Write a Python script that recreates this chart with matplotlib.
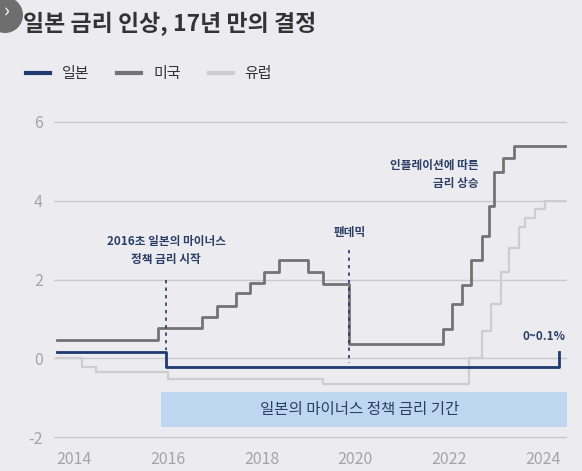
import matplotlib
matplotlib.use("Agg")
import matplotlib.pyplot as plt
from matplotlib.lines import Line2D
from matplotlib.patches import Circle, Rectangle
from matplotlib.transforms import IdentityTransform

plt.rcParams['font.family'] = ['Noto Sans CJK KR', 'DejaVu Sans']

# values (step series, steps-post)
japan_x = [2013.63, 2015.96, 2024.35]
japan_y = [0.15, -0.21, 0.17]

us_x = [2013.63, 2015.80, 2016.74, 2017.06, 2017.45, 2017.75, 2018.06, 2018.37,
        2018.98, 2019.30, 2019.86, 2021.87, 2022.07, 2022.28, 2022.46, 2022.69,
        2022.85, 2022.96, 2023.15, 2023.39, 2024.47]
us_y = [0.46, 0.76, 1.04, 1.33, 1.67, 1.90, 2.18, 2.49,
        2.18, 1.89, 0.37, 0.74, 1.37, 1.87, 2.50, 3.10,
        3.87, 4.72, 5.09, 5.39, 5.39]

eu_x = [2013.63, 2014.18, 2014.48, 2016.00, 2019.30, 2022.42, 2022.71, 2022.89,
        2023.10, 2023.28, 2023.49, 2023.62, 2023.83, 2024.04, 2024.47]
eu_y = [0.0, -0.21, -0.36, -0.53, -0.65, 0.0, 0.69, 1.39,
        2.20, 2.79, 3.33, 3.57, 3.80, 3.99, 3.99]

years = [2014, 2016, 2018, 2020, 2022, 2024]
y_ticks = [-2, 0, 2, 4, 6]
names = ['일본', '미국', '유럽']

bg = '#ececf0'
navy = '#1f3a6e'
us_col = '#737373'
eu_col = '#cdcdd0'
ann_col = '#2b3f66'

fig = plt.figure(figsize=(5.82, 4.71), dpi=100, facecolor=bg)
ax = fig.add_axes([54 / 582, 26 / 471, 513 / 582, 342.8 / 471])
ax.set_facecolor(bg)
ax.set_xlim(2013.574, 2024.512)
ax.set_ylim(-2.2, 6.5)

for s in ax.spines.values():
    s.set_visible(False)
ax.set_yticks(y_ticks)
ax.set_yticklabels([str(v) for v in y_ticks])
ax.set_xticks(years)
ax.set_xticklabels([str(v) for v in years])
ax.tick_params(axis='both', length=0, labelsize=11.5, labelcolor='#a3a3aa')
ax.tick_params(axis='y', pad=8)
ax.tick_params(axis='x', pad=4)
ax.grid(axis='y', color='#c9c9ce', lw=1)
ax.set_axisbelow(True)

# band for the negative rate period
ax.add_patch(Rectangle((2015.85, -1.74), 2024.51 - 2015.85, 0.89,
                       facecolor='#bed6f0', edgecolor='none', zorder=1))
ax.text(2020.08, -1.29, '일본의 마이너스 정책 금리 기간', ha='center', va='center',
        fontsize=11.2, color=ann_col, zorder=2)

ax.plot(eu_x, eu_y, drawstyle='steps-post', color=eu_col, lw=1.6, zorder=3)
ax.plot(us_x, us_y, drawstyle='steps-post', color=us_col, lw=2, zorder=4)
ax.plot(japan_x, japan_y, drawstyle='steps-post', color=navy, lw=2, zorder=5)

# dotted markers
ax.plot([2015.96, 2015.96], [1.99, 0.2], color=navy, lw=1.2, ls=(0, (2, 2.5)), zorder=6)
ax.plot([2019.86, 2019.86], [2.75, -0.13], color=navy, lw=1.2, ls=(0, (2, 2.5)), zorder=6)

ax.text(2015.97, 2.74, '2016초 일본의 마이너스\n정책 금리 시작', ha='center', va='center',
        fontsize=8.4, color=ann_col, linespacing=1.5, fontweight='semibold')
ax.text(2019.88, 3.19, '팬데믹', ha='center', va='center', fontsize=8.4,
        color=ann_col, fontweight='semibold')
ax.text(2022.62, 4.67, '인플레이션에 따른\n금리 상승', ha='right', va='center',
        fontsize=8.4, color=ann_col, linespacing=1.5, multialignment='right',
        fontweight='semibold')
ax.text(2024.47, 0.55, '0~0.1%', ha='right', va='center', fontsize=8.5,
        color=ann_col, fontweight='semibold')

# header
fig.text(23 / 582, 1 - 24 / 471, '일본 금리 인상, 17년 만의 결정', ha='left', va='center',
         fontsize=16.5, fontweight='bold', color='#333333')

handles = [Line2D([], [], color=navy, lw=3),
           Line2D([], [], color=us_col, lw=3),
           Line2D([], [], color=eu_col, lw=3)]
fig.legend(handles, names, loc='center left', bbox_to_anchor=(26 / 582, 1 - 74 / 471),
           ncol=3, frameon=False, fontsize=10.8, handlelength=1.6, handletextpad=0.8,
           columnspacing=1.85, borderpad=0, borderaxespad=0, labelcolor='#333333')

# screenshot's corner button
fig.add_artist(Circle((5, 471 - 15), 18, transform=IdentityTransform(),
                      facecolor='#6e6e6e', edgecolor='none'))
fig.text(7 / 582, 1 - 12 / 471, '›', ha='center', va='center', color='white', fontsize=14)

fig.savefig('out.png', dpi=100, facecolor=bg)
